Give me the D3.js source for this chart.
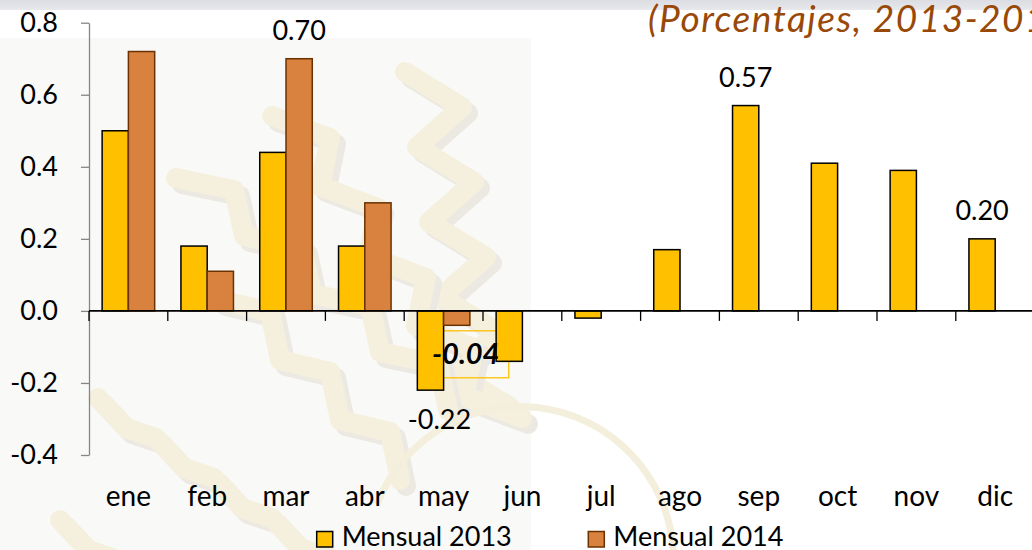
<!DOCTYPE html>
<html>
<head>
<meta charset="utf-8">
<script src="https://cdn.jsdelivr.net/npm/d3@7"></script>
<style>
  body { margin: 0; background: #fff; }
  text { font-family: Lato, "Open Sans", sans-serif; }
</style>
</head>
<body>
<script>
// chart values
var months = ['ene', 'feb', 'mar', 'abr', 'may', 'jun', 'jul', 'ago', 'sep', 'oct', 'nov', 'dic'];
var series = ['Mensual 2013', 'Mensual 2014'];
var values2013 = [0.50, 0.18, 0.44, 0.18, -0.22, -0.14, -0.02, 0.17, 0.57, 0.41, 0.39, 0.20];
var values2014 = [0.72, 0.11, 0.70, 0.30, -0.04];
var yTicks = [-0.4, -0.2, 0.0, 0.2, 0.4, 0.6, 0.8];
// data labels shown on the chart: [series index, month, text]
var labels = [[1, 'mar', '0.70'], [0, 'sep', '0.57'], [0, 'dic', '0.20'], [0, 'may', '-0.22'], [1, 'may', '-0.04']];
var title = '(Porcentajes, 2013-2014)';

var width = 1032, height = 550;
var fills = ['#FFC000', '#D9823F'],
    strokes = ['#000000', '#6B3200'];

var svg = d3.select('body').append('svg')
  .attr('width', width)
  .attr('height', height);

// faded backdrop: grey strip on top, watermark picture on the left
var defs = svg.append('defs');
var grad = defs.append('linearGradient').attr('id', 'topband').attr('x1', 0).attr('y1', 0).attr('x2', 0).attr('y2', 1);
grad.append('stop').attr('offset', '0%').attr('stop-color', '#dcdde2');
grad.append('stop').attr('offset', '100%').attr('stop-color', '#e8e9ec');
svg.append('rect').attr('width', width).attr('height', 10).attr('fill', 'url(#topband)');

var bg = svg.append('g');
bg.append('rect').attr('x', 0).attr('y', 38).attr('width', 531).attr('height', 512).attr('fill', '#f9f9f8');

// zigzag ribbons of the watermark
function zigzag(x0, y0, sx, sy, ax, ay, n) {
  var pts = [[x0, y0]];
  for (var i = 0; i < n; i++) {
    var p = pts[pts.length - 1];
    pts.push(i % 2 ? [p[0] + sx, p[1] + sy] : [p[0] + ax, p[1] + ay]);
  }
  return d3.line()(pts);
}
var ribbons = [
  zigzag(405, 72, -45, 40, 57, 35, 9),
  zigzag(272, 116, -10, 48, 58, 22, 9),
  zigzag(176, 178, 10, 46, 58, 12, 8),
  zigzag(220, 300, 10, 48, 50, 12, 6),
  zigzag(98, 398, 30, 10, 28, 30, 10),
  zigzag(60, 520, 30, 10, 28, 30, 10)
];
ribbons.forEach(function(d) {
  bg.append('path').attr('d', d).attr('transform', 'translate(6,6)')
    .attr('fill', 'none').attr('stroke', '#ece9e2').attr('stroke-width', 20)
    .attr('stroke-linecap', 'round').attr('stroke-linejoin', 'round');
  bg.append('path').attr('d', d)
    .attr('fill', 'none').attr('stroke', '#f5f0dd').attr('stroke-width', 20)
    .attr('stroke-linecap', 'round').attr('stroke-linejoin', 'round');
});
bg.append('path')
  .attr('d', d3.arc()({innerRadius: 150, outerRadius: 157, startAngle: -1.2, endAngle: 1.6}))
  .attr('transform', 'translate(520,560)')
  .attr('fill', '#f4efdc');
svg.append('rect').attr('x', 0).attr('y', 10).attr('width', width).attr('height', 28).attr('fill', '#fff');

// scales
var x = d3.scaleBand().domain(months).range([89, 1034.6]);
var xs = d3.scaleBand().domain([0, 1]).range([0, x.bandwidth()]).paddingOuter(0.5);
var y = d3.scaleLinear().domain([-0.4, 0.8]).range([455, 22.7]);

var bars = [];
values2013.forEach(function(v, i) { bars.push({s: 0, m: months[i], v: v}); });
values2014.forEach(function(v, i) { bars.push({s: 1, m: months[i], v: v}); });

function barX(d) { return x(d.m) + xs(d.s); }
function barEnd(s, m) {
  var v = (s === 0 ? values2013 : values2014)[months.indexOf(m)];
  return {v: v, cx: x(m) + xs(s) + xs.bandwidth() / 2, y: y(v)};
}

// box drawn round the -0.04 label, under the bars
var boxed = barEnd(1, 'may');
svg.append('rect')
  .attr('x', boxed.cx - 15).attr('y', boxed.y + 5.5)
  .attr('width', 67).attr('height', 47)
  .attr('fill', 'none').attr('stroke', '#FFC000').attr('stroke-width', 1.3);

svg.append('g').selectAll('rect')
  .data(bars)
  .join('rect')
  .attr('x', barX)
  .attr('y', function(d) { return y(Math.max(0, d.v)); })
  .attr('width', xs.bandwidth())
  .attr('height', function(d) { return Math.abs(y(d.v) - y(0)); })
  .attr('fill', function(d) { return fills[d.s]; })
  .attr('stroke', function(d) { return strokes[d.s]; })
  .attr('stroke-width', 1.5);

// y axis
var fmt = d3.format('.1f');
var yAxis = svg.append('g')
  .attr('transform', 'translate(89,0)')
  .call(d3.axisLeft(y).tickValues(yTicks)
    .tickFormat(function(d) { return fmt(d).replace('\u2212', '-'); })
    .tickSize(8).tickPadding(23).tickSizeOuter(0));
yAxis.select('.domain').attr('stroke', '#868686').attr('stroke-width', 1.3);
yAxis.selectAll('.tick line').attr('stroke', '#868686').attr('stroke-width', 1.3);
yAxis.selectAll('.tick text').attr('font-size', 27).attr('fill', '#000').attr('font-family', 'Lato');

// category axis on the zero line
var bounds = months.map(function(m) { return x(m); });
var xAxis = svg.append('g');
xAxis.append('line')
  .attr('x1', 89).attr('x2', width).attr('y1', y(0)).attr('y2', y(0))
  .attr('stroke', '#000').attr('stroke-width', 1.6);
xAxis.selectAll('.tk')
  .data(bounds.concat([x.range()[1]]))
  .join('line')
  .attr('x1', function(d) { return d; }).attr('x2', function(d) { return d; })
  .attr('y1', y(0)).attr('y2', y(0) + 10)
  .attr('stroke', '#000').attr('stroke-width', 1.3);
xAxis.selectAll('.ml')
  .data(months)
  .join('text')
  .attr('x', function(m) { return x(m) + x.bandwidth() / 2; })
  .attr('y', 506)
  .attr('text-anchor', 'middle')
  .attr('font-size', 28)
  .text(function(m) { return m; });

// data labels
labels.forEach(function(l) {
  var e = barEnd(l[0], l[1]);
  var neg = e.v < 0;
  var t = svg.append('text')
    .attr('x', e.cx + (neg ? 9 : 0))
    .attr('y', neg ? e.y + 39 : e.y - 19)
    .attr('text-anchor', 'middle')
    .attr('font-size', 27)
    .text(l[2]);
  if (l[2] === '-0.04') {
    t.attr('font-weight', 'bold').attr('font-style', 'italic').attr('font-size', 29);
  }
});

// title, running off the right edge
svg.append('text')
  .attr('x', 648).attr('y', 32)
  .attr('font-size', 37)
  .attr('letter-spacing', 1.5)
  .attr('font-style', 'italic')
  .attr('fill', '#984807')
  .text(title);

// legend
var legend = svg.append('g');
[316.7, 588.3].forEach(function(lx, i) {
  legend.append('rect')
    .attr('x', lx).attr('y', 531.5).attr('width', 16).attr('height', 15.5)
    .attr('fill', fills[i]).attr('stroke', strokes[i]).attr('stroke-width', 1.5);
  legend.append('text')
    .attr('x', lx + 25).attr('y', 546)
    .attr('font-size', 27)
    .text(series[i]);
});
</script>
</body>
</html>
